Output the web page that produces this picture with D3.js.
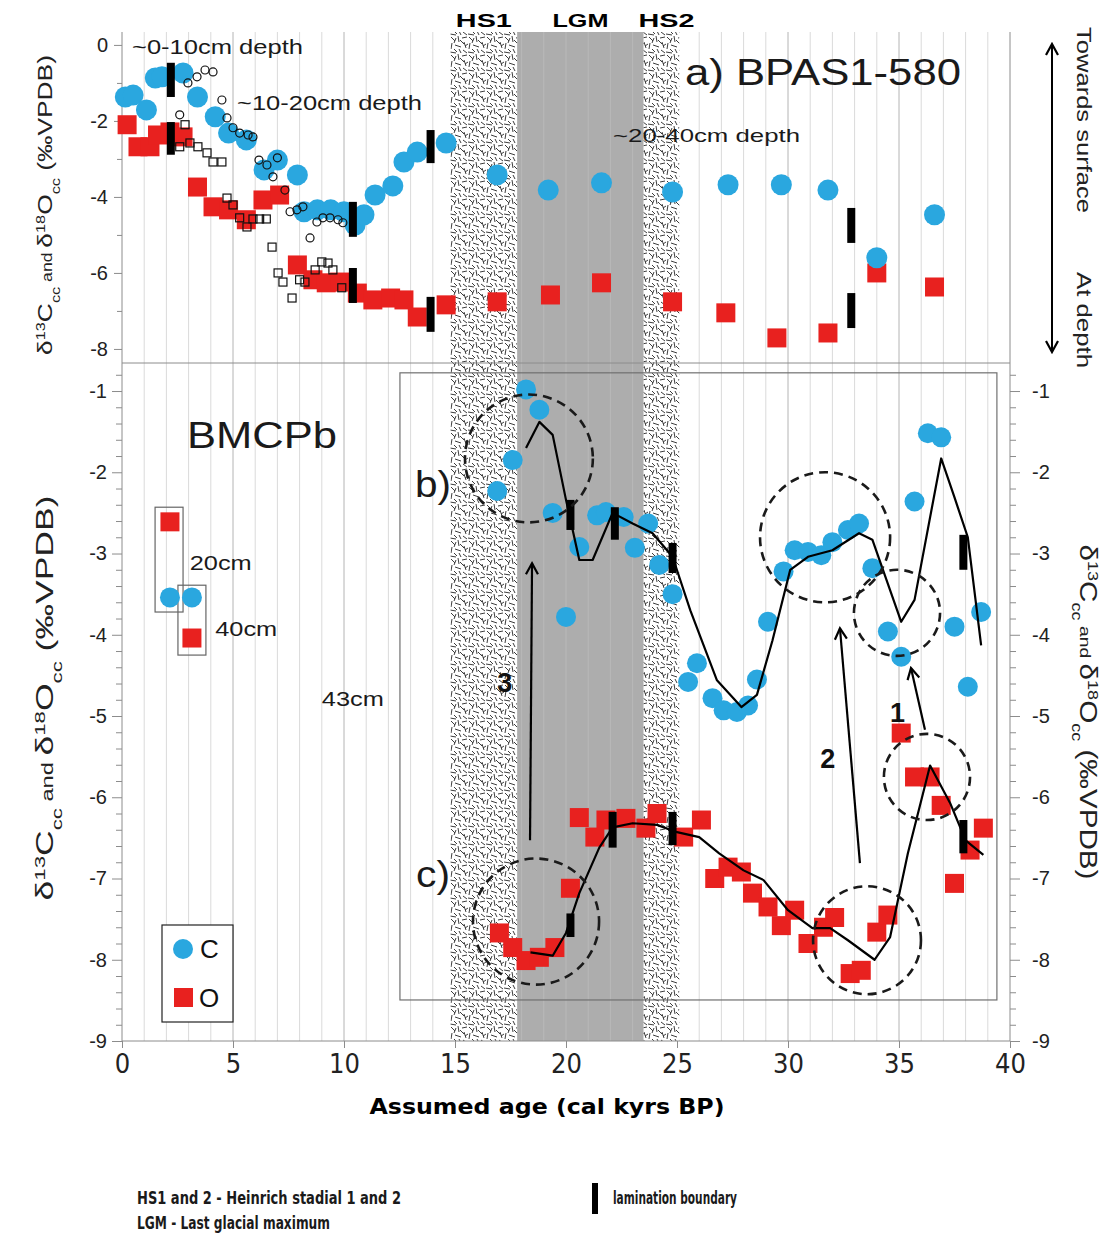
<!DOCTYPE html>
<html>
<head>
<meta charset="utf-8">
<script src="https://cdn.jsdelivr.net/npm/d3@7.9.0/dist/d3.min.js"></script>
<style>
  body { margin: 0; background: #fff; }
  svg { display: block; font-family: "Liberation Sans", Arial, sans-serif; }
</style>
</head>
<body>
<svg id="chart" width="1115" height="1234"></svg>
<script>
// ---- climate periods ----
const periodLabels = ['HS1', 'LGM', 'HS2'];
const periodStart = [14.8, 17.8, 23.5];
const periodEnd = [17.8, 23.5, 25.1];
const periodKind = ['hatch', 'gray', 'hatch'];

// ---- a) BPAS1-580 (age kyr, value permil) ----
const bpasC = [[0.15,-1.37],[0.5,-1.32],[1.1,-1.71],[1.5,-0.87],[1.8,-0.84],[2.75,-0.74],[3.4,-1.37],
  [4.2,-1.89],[4.8,-2.32],[5.6,-2.5],[6.4,-3.29],[7.0,-3.03],[7.9,-3.42],[8.2,-4.39],[8.8,-4.34],
  [9.4,-4.34],[10.0,-4.39],[10.5,-4.74],[10.9,-4.47],[11.4,-3.95],[12.2,-3.71],[12.7,-3.08],
  [13.3,-2.82],[14.6,-2.58],[16.9,-3.42],[19.2,-3.82],[21.6,-3.63],[24.8,-3.87],[27.3,-3.68],
  [29.7,-3.68],[31.8,-3.82],[34.0,-5.6],[36.6,-4.47]];
const bpasO = [[0.23,-2.1],[0.72,-2.68],[1.26,-2.68],[1.6,-2.37],[2.16,-2.29],[2.75,-2.42],[3.4,-3.74],
  [4.1,-4.26],[4.8,-4.34],[5.6,-4.6],[6.35,-4.08],[7.1,-3.95],[7.9,-5.79],[8.6,-6.18],[9.2,-6.26],
  [9.8,-6.24],[10.6,-6.53],[11.3,-6.71],[12.1,-6.66],[12.7,-6.71],[13.3,-7.16],[14.6,-6.84],
  [16.9,-6.76],[19.3,-6.58],[21.6,-6.26],[24.8,-6.76],[27.2,-7.05],[29.5,-7.71],[31.8,-7.58],
  [34.0,-6.0],[36.6,-6.37]];
// comparison record, shown as small open symbols
const refC = [[2.6,-1.84],[2.97,-1.0],[3.38,-0.84],[3.74,-0.66],[4.1,-0.71],[4.5,-1.45],[4.73,-1.92],
  [5.0,-2.18],[5.3,-2.32],[5.68,-2.37],[5.9,-2.42],[6.17,-3.03],[6.53,-3.16],[6.8,-3.47],[7.0,-2.97],
  [7.34,-3.82],[7.57,-4.39],[7.88,-4.34],[8.15,-4.26],[8.47,-5.08],[8.78,-4.66],[9.05,-4.55],
  [9.37,-4.55],[9.73,-4.6],[9.95,-4.68]];
const refO = [[2.84,-2.1],[2.6,-2.68],[3.06,-2.58],[3.42,-2.68],[3.83,-2.84],[4.1,-3.08],[4.5,-3.08],
  [4.73,-4.03],[5.0,-4.21],[5.3,-4.55],[5.63,-4.79],[5.9,-4.58],[6.2,-4.58],[6.5,-4.58],[6.76,-5.32],
  [7.03,-6.0],[7.25,-6.24],[7.66,-6.66],[8.0,-6.18],[8.24,-6.24],[8.7,-5.92],[9.0,-5.71],[9.28,-5.74],
  [9.5,-5.92],[9.9,-6.39]];
// lamination boundaries: [age, top value, bottom value]
const bpasBars = [[2.2,-0.47,-1.37],[2.2,-2.03,-2.89],[13.9,-2.24,-3.11],[10.4,-4.13,-5.05],
  [10.4,-5.87,-6.79],[13.9,-6.63,-7.55],[32.85,-4.29,-5.21],[32.85,-6.53,-7.45]];

// ---- BMCPb ----
const bmcpC = [[16.9,-2.23],[17.6,-1.85],[18.2,-0.98],[18.8,-1.23],[19.4,-2.5],[20.0,-3.78],[20.6,-2.92],
  [21.4,-2.53],[21.8,-2.49],[22.6,-2.55],[23.1,-2.93],[23.7,-2.63],[24.2,-3.14],[24.8,-3.5],[25.5,-4.58],
  [25.9,-4.35],[26.6,-4.78],[27.1,-4.93],[27.7,-4.95],[28.2,-4.87],[28.6,-4.55],[29.1,-3.84],[29.8,-3.22],
  [30.3,-2.96],[30.9,-2.98],[31.5,-3.02],[32.0,-2.86],[32.7,-2.71],[33.2,-2.63],[33.8,-3.18],[34.5,-3.96],
  [35.1,-4.27],[35.7,-2.36],[36.3,-1.52],[36.9,-1.57],[37.5,-3.9],[38.1,-4.64],[38.7,-3.72]];
const bmcpCLine = [[18.2,-1.70],[18.8,-1.38],[19.4,-1.54],[20.0,-2.34],[20.6,-3.08],[21.2,-3.08],[22.1,-2.5],
  [23.0,-2.63],[23.9,-2.75],[24.8,-3.04],[25.6,-3.7],[26.8,-4.56],[27.9,-4.89],[28.6,-4.74],[29.3,-4.07],
  [30.1,-3.2],[30.9,-3.04],[32.0,-2.96],[33.2,-2.75],[33.8,-2.83],[35.1,-3.84],[35.7,-3.57],[36.9,-1.83],
  [37.5,-2.31],[38.1,-2.8],[38.7,-4.13]];
const bmcpO = [[17.0,-7.67],[17.6,-7.85],[18.2,-8.01],[18.8,-7.97],[19.5,-7.85],[20.2,-7.12],[20.6,-6.25],
  [21.3,-6.49],[21.8,-6.28],[22.7,-6.26],[23.6,-6.38],[24.1,-6.2],[25.3,-6.49],[26.1,-6.28],[26.7,-7.0],
  [27.3,-6.86],[27.9,-6.92],[28.4,-7.18],[29.1,-7.35],[29.7,-7.58],[30.3,-7.39],[30.9,-7.8],[31.6,-7.6],
  [32.1,-7.48],[32.8,-8.17],[33.3,-8.13],[34.0,-7.66],[34.5,-7.45],[35.1,-5.21],[35.7,-5.75],[36.4,-5.75],
  [36.9,-6.1],[37.5,-7.06],[38.2,-6.65],[38.8,-6.38]];
const bmcpOLine = [[18.4,-7.91],[19.4,-7.95],[20.0,-7.67],[20.6,-7.18],[21.5,-6.62],[22.1,-6.37],[23.0,-6.32],
  [24.1,-6.34],[25.0,-6.43],[26.0,-6.49],[26.9,-6.69],[28.0,-6.9],[28.9,-7.02],[30.0,-7.39],[31.1,-7.61],
  [31.9,-7.61],[32.7,-7.76],[33.9,-8.0],[34.6,-7.72],[35.4,-6.69],[36.4,-5.61],[37.3,-6.07],[38.0,-6.53],
  [38.8,-6.71]];
const bmcpBars = [[20.2,-2.34,-2.71],[22.2,-2.43,-2.83],[24.8,-2.87,-3.24],[37.9,-2.77,-3.2],
  [20.2,-7.43,-7.72],[22.1,-6.18,-6.62],[24.8,-6.18,-6.59],[37.9,-6.28,-6.69]];
// surface samples of BMCPb
const coreC = [[2.16,-3.54],[3.15,-3.54]];
const coreO = [[2.16,-2.61],[3.15,-4.04]];
const coreBoxes = [[1.49,2.75,-2.43,-3.72],[2.52,3.78,-3.39,-4.25]];
const coreLabels = ['20cm', '40cm', '43cm'];
const coreLabelPos = [[3.05,-3.2],[4.2,-4.02],[9.0,-4.88]];
// dashed rings: [age, value, radius in kyr]
const rings = [[18.33,-1.83,2.88],[31.67,-2.8,2.93],[34.91,-3.73,1.94],
  [18.65,-7.53,2.84],[33.56,-7.76,2.43],[36.26,-5.75,1.94]];
// arrows: [from age, from value, to age, to value], labels
const arrows = [[36.17,-5.17,35.54,-4.41],[33.24,-6.81,32.34,-3.92],[18.38,-6.53,18.47,-3.12]];
const arrowLabels = ['1', '2', '3'];
const arrowLabelPos = [[34.6,-5.07],[31.45,-5.64],[16.9,-4.7]];

const xTicks = [0, 5, 10, 15, 20, 25, 30, 35, 40];

// ---- layout ----
const svg = d3.select('#chart');
const x = d3.scaleLinear().domain([0, 40]).range([122, 1010]);
const yTop = d3.scaleLinear().domain([-8.37, 0.34]).range([363, 32]);
const yBot = d3.scaleLinear().domain([-9, -0.655]).range([1041, 363]);
const BLUE = '#2aa7df', RED = '#e8211f';

const defs = svg.append('defs');
const hatch = defs.append('pattern').attr('id', 'hatch').attr('patternUnits', 'userSpaceOnUse')
  .attr('width', 18).attr('height', 18);
hatch.append('rect').attr('width', 18).attr('height', 18).attr('fill', '#fff');
const dashes = [[1,1,5,5],[8,0,9,6],[12,2,17,1],[2,7,1,13],[5,9,11,11],[14,6,16,12],
  [0,16,6,17],[9,13,11,17],[13,14,17,17],[10,4,14,8],[4,13,7,16],[6,2,4,7],[15,10,18,8]];
hatch.selectAll('line').data(dashes).join('line')
  .attr('x1', d => d[0]).attr('y1', d => d[1]).attr('x2', d => d[2]).attr('y2', d => d[3])
  .attr('stroke', '#3c3c3c').attr('stroke-width', 1);

defs.append('marker').attr('id', 'arrow').attr('viewBox', '-2 -8 16 16')
  .attr('refX', 12).attr('refY', 0).attr('markerWidth', 16).attr('markerHeight', 16)
  .attr('markerUnits', 'userSpaceOnUse').attr('orient', 'auto-start-reverse')
  .append('path').attr('d', 'M1,-6 L12,0 L1,6').attr('fill', 'none')
  .attr('stroke', '#000').attr('stroke-width', 2.2);

// grid
const gridAges = d3.range(1, 40);
svg.append('g').selectAll('line').data(gridAges).join('line')
  .attr('x1', d => x(d)).attr('x2', d => x(d)).attr('y1', 32).attr('y2', 1041)
  .attr('stroke', d => d % 5 === 0 ? '#b4b4b4' : '#dadada').attr('stroke-width', 1);

// periods
svg.append('g').selectAll('rect').data(periodLabels).join('rect')
  .attr('x', (d, i) => x(periodStart[i])).attr('width', (d, i) => x(periodEnd[i]) - x(periodStart[i]))
  .attr('y', 32).attr('height', 1041 - 32)
  .attr('fill', (d, i) => periodKind[i] === 'hatch' ? 'url(#hatch)' : '#adadad');
svg.append('g').selectAll('line').data(gridAges.filter(a => a > periodStart[1] && a < periodEnd[1])).join('line')
  .attr('x1', d => x(d)).attr('x2', d => x(d)).attr('y1', 32).attr('y2', 1041)
  .attr('stroke', '#b9b9b9').attr('stroke-width', 1);
svg.append('g').selectAll('text').data(periodLabels).join('text')
  .attr('x', (d, i) => x((periodStart[i] + periodEnd[i]) / 2) + (i === 2 ? 5 : 0)).attr('y', 27)
  .attr('text-anchor', 'middle').attr('font-weight', 'bold').attr('font-size', 19)
  .attr('textLength', 56).attr('lengthAdjust', 'spacingAndGlyphs').text(d => d);

// frame lines
const frame = svg.append('g').attr('stroke', '#8c8c8c').attr('fill', 'none');
frame.append('line').attr('x1', 122).attr('x2', 1010).attr('y1', 363).attr('y2', 363);
frame.append('line').attr('x1', 1010).attr('x2', 1010).attr('y1', 32).attr('y2', 363);
frame.append('line').attr('x1', 122).attr('x2', 1010).attr('y1', 1041).attr('y2', 1041);
svg.append('rect').attr('x', x(12.52)).attr('y', yBot(-0.776))
  .attr('width', x(39.41) - x(12.52)).attr('height', yBot(-8.495) - yBot(-0.776))
  .attr('fill', 'none').attr('stroke', '#707070').attr('stroke-width', 1.2);

// axes
function styleAxis(g) {
  g.selectAll('path.domain').attr('stroke', '#8c8c8c');
  g.selectAll('.tick line').attr('stroke', '#8c8c8c');
  g.selectAll('.tick text').attr('font-size', 20).attr('fill', '#222')
    .attr('font-family', '"Liberation Sans", Arial, sans-serif');
}
const fmt = d => String(d);
const topAx = svg.append('g').attr('transform', 'translate(122,0)')
  .call(d3.axisLeft(yTop).tickValues([0, -2, -4, -6, -8]).tickFormat(fmt).tickSize(8).tickPadding(6));
topAx.select('path.domain').remove();
svg.append('g').attr('transform', 'translate(122,0)')
  .call(d3.axisLeft(yTop).tickValues([-1, -3, -5, -7]).tickFormat('').tickSize(5))
  .call(g => g.select('path.domain').remove()).call(styleAxis);
styleAxis(topAx);
svg.append('line').attr('x1', 122).attr('x2', 122).attr('y1', 32).attr('y2', 1041).attr('stroke', '#8c8c8c');

const minorBot = d3.range(-9, -0.7, 0.2).map(v => Math.round(v * 10) / 10).filter(v => !Number.isInteger(v));
const majorBot = d3.range(-9, 0, 1);
[['left', d3.axisLeft, 122], ['right', d3.axisRight, 1010]].forEach(([side, axisFn, px]) => {
  const g = svg.append('g').attr('transform', `translate(${px},0)`)
    .call(axisFn(yBot).tickValues(majorBot).tickFormat(fmt).tickSize(10).tickPadding(side === 'left' ? 5 : 12));
  g.select('path.domain').remove();
  styleAxis(g);
  const m = svg.append('g').attr('transform', `translate(${px},0)`)
    .call(axisFn(yBot).tickValues(minorBot).tickFormat('').tickSize(6));
  m.select('path.domain').remove();
  styleAxis(m);
});
svg.append('line').attr('x1', 1010).attr('x2', 1010).attr('y1', 363).attr('y2', 1041).attr('stroke', '#8c8c8c');

const xAx = svg.append('g').attr('transform', 'translate(0,1041)')
  .call(d3.axisBottom(x).tickValues(xTicks).tickFormat(fmt).tickSize(7).tickPadding(6));
xAx.select('path.domain').remove();
styleAxis(xAx);
xAx.selectAll('.tick text').attr('font-size', 27)
  .attr('font-family', '"Liberation Sans Narrow", "DejaVu Sans Condensed", sans-serif');

// axis titles
function deltaTitle(g, size, len) {
  const t = g.append('text').attr('text-anchor', 'middle').attr('font-size', size).attr('fill', '#222')
    .attr('textLength', len).attr('lengthAdjust', 'spacingAndGlyphs');
  const small = Math.round(size * 0.62);
  const parts = [['δ', null], ['13', 'super'], ['C', null], ['cc', 'sub'], [' and ', 'and'],
    ['δ', null], ['18', 'super'], ['O', null], ['cc', 'sub'], [' (‰VPDB)', null]];
  parts.forEach(([s, k]) => {
    const ts = t.append('tspan').text(s);
    if (k === 'super' || k === 'sub') ts.attr('font-size', small).attr('baseline-shift', k);
    if (k === 'and') ts.attr('font-size', small + 1);
  });
  return t;
}
deltaTitle(svg.append('g').attr('transform', 'translate(52,205) rotate(-90)'), 21, 300);
deltaTitle(svg.append('g').attr('transform', 'translate(53,698) rotate(-90)'), 24, 405);
deltaTitle(svg.append('g').attr('transform', 'translate(1080,712) rotate(90)'), 23, 335);

svg.append('text').attr('x', 547).attr('y', 1114).attr('text-anchor', 'middle')
  .attr('font-family', '"Liberation Sans Narrow", "DejaVu Sans Condensed", sans-serif')
  .attr('font-weight', 'bold').attr('font-size', 22).attr('textLength', 355)
  .attr('lengthAdjust', 'spacingAndGlyphs').text('Assumed age (cal kyrs BP)');

// right-side depth arrow
svg.append('line').attr('x1', 1052).attr('x2', 1052).attr('y1', 44).attr('y2', 352)
  .attr('stroke', '#000').attr('stroke-width', 2)
  .attr('marker-start', 'url(#arrow)').attr('marker-end', 'url(#arrow)');
svg.append('text').attr('transform', 'translate(1077,27) rotate(90)').attr('font-size', 21)
  .attr('textLength', 186).attr('lengthAdjust', 'spacingAndGlyphs').attr('fill', '#222').text('Towards surface');
svg.append('text').attr('transform', 'translate(1077,272) rotate(90)').attr('font-size', 21)
  .attr('textLength', 96).attr('lengthAdjust', 'spacingAndGlyphs').attr('fill', '#222').text('At depth');

// ---- panel a ----
const gA = svg.append('g');
const sq = 19, sqS = 8;
gA.selectAll('rect.o').data(bpasO).join('rect').attr('class', 'o')
  .attr('x', d => x(d[0]) - sq / 2).attr('y', d => yTop(d[1]) - sq / 2)
  .attr('width', sq).attr('height', sq).attr('fill', RED);
gA.selectAll('circle.c').data(bpasC).join('circle').attr('class', 'c')
  .attr('cx', d => x(d[0])).attr('cy', d => yTop(d[1])).attr('r', 10.5).attr('fill', BLUE);
gA.selectAll('rect.ro').data(refO).join('rect').attr('class', 'ro')
  .attr('x', d => x(d[0]) - sqS / 2).attr('y', d => yTop(d[1]) - sqS / 2)
  .attr('width', sqS).attr('height', sqS).attr('fill', 'none').attr('stroke', '#111').attr('stroke-width', 1.2);
gA.selectAll('circle.rc').data(refC).join('circle').attr('class', 'rc')
  .attr('cx', d => x(d[0])).attr('cy', d => yTop(d[1])).attr('r', 4)
  .attr('fill', 'none').attr('stroke', '#111').attr('stroke-width', 1.2);
gA.selectAll('rect.bar').data(bpasBars).join('rect').attr('class', 'bar')
  .attr('x', d => x(d[0]) - 4).attr('y', d => yTop(d[1]))
  .attr('width', 8).attr('height', d => yTop(d[2]) - yTop(d[1])).attr('fill', '#000');

function label(s, px, py, size, w, extra) {
  const t = svg.append('text').attr('x', px).attr('y', py).attr('font-size', size).attr('fill', '#1a1a1a').text(s);
  if (w) t.attr('textLength', w).attr('lengthAdjust', 'spacingAndGlyphs');
  if (extra) extra(t);
  return t;
}
label('~0-10cm depth', 132, 54, 20, 171);
label('~10-20cm depth', 237, 110, 20, 185);
label('~20-40cm depth', 613, 142, 19, 187);
label('a) BPAS1-580', 685, 85, 37, 276);

// ---- BMCPb ----
label('BMCPb', 187, 448, 36, 150);
const gB = svg.append('g');
gB.selectAll('rect.box').data(coreBoxes).join('rect').attr('class', 'box')
  .attr('x', d => x(d[0])).attr('y', d => yBot(d[2]))
  .attr('width', d => x(d[1]) - x(d[0])).attr('height', d => yBot(d[3]) - yBot(d[2]))
  .attr('fill', 'none').attr('stroke', '#666').attr('stroke-width', 1.2);
gB.selectAll('rect.co').data(coreO).join('rect').attr('class', 'co')
  .attr('x', d => x(d[0]) - sq / 2).attr('y', d => yBot(d[1]) - sq / 2)
  .attr('width', sq).attr('height', sq).attr('fill', RED);
gB.selectAll('circle.cc').data(coreC).join('circle').attr('class', 'cc')
  .attr('cx', d => x(d[0])).attr('cy', d => yBot(d[1])).attr('r', 10).attr('fill', BLUE);
gB.selectAll('text.cl').data(coreLabels).join('text').attr('class', 'cl')
  .attr('x', (d, i) => x(coreLabelPos[i][0])).attr('y', (d, i) => yBot(coreLabelPos[i][1]))
  .attr('font-size', 21).attr('fill', '#1a1a1a').attr('textLength', 62)
  .attr('lengthAdjust', 'spacingAndGlyphs').text(d => d);

gB.selectAll('rect.o').data(bmcpO).join('rect').attr('class', 'o')
  .attr('x', d => x(d[0]) - sq / 2).attr('y', d => yBot(d[1]) - sq / 2)
  .attr('width', sq).attr('height', sq).attr('fill', RED);
gB.selectAll('circle.c').data(bmcpC).join('circle').attr('class', 'c')
  .attr('cx', d => x(d[0])).attr('cy', d => yBot(d[1])).attr('r', 10).attr('fill', BLUE);
const line = d3.line().x(d => x(d[0])).y(d => yBot(d[1]));
[bmcpCLine, bmcpOLine].forEach(s => gB.append('path').attr('d', line(s))
  .attr('fill', 'none').attr('stroke', '#000').attr('stroke-width', 2.2).attr('stroke-linejoin', 'round'));
gB.selectAll('rect.bar').data(bmcpBars).join('rect').attr('class', 'bar')
  .attr('x', d => x(d[0]) - 4).attr('y', d => yBot(d[1]))
  .attr('width', 8).attr('height', d => yBot(d[2]) - yBot(d[1])).attr('fill', '#000');
gB.selectAll('circle.ring').data(rings).join('circle').attr('class', 'ring')
  .attr('cx', d => x(d[0])).attr('cy', d => yBot(d[1])).attr('r', d => x(d[2]) - x(0))
  .attr('fill', 'none').attr('stroke', '#1a1a1a').attr('stroke-width', 2.6).attr('stroke-dasharray', '9,6');
gB.selectAll('line.arr').data(arrows).join('line').attr('class', 'arr')
  .attr('x1', d => x(d[0])).attr('y1', d => yBot(d[1])).attr('x2', d => x(d[2])).attr('y2', d => yBot(d[3]))
  .attr('stroke', '#000').attr('stroke-width', 2.2).attr('marker-end', 'url(#arrow)');
gB.selectAll('text.al').data(arrowLabels).join('text').attr('class', 'al')
  .attr('x', (d, i) => x(arrowLabelPos[i][0])).attr('y', (d, i) => yBot(arrowLabelPos[i][1]))
  .attr('font-size', 27).attr('font-weight', 'bold').attr('fill', '#111').text(d => d);
label('b)', 415, 497, 36, 36);
label('c)', 416, 887, 36, 34);

// legend
const leg = svg.append('g');
leg.append('rect').attr('x', 162).attr('y', 925).attr('width', 71).attr('height', 97)
  .attr('fill', '#fff').attr('stroke', '#222').attr('stroke-width', 1.2);
leg.append('circle').attr('cx', 183).attr('cy', 949).attr('r', 10).attr('fill', BLUE);
leg.append('rect').attr('x', 174).attr('y', 988).attr('width', 19).attr('height', 19).attr('fill', RED);
leg.append('text').attr('x', 200).attr('y', 958).attr('font-size', 26).attr('fill', '#111').text('C');
leg.append('text').attr('x', 199).attr('y', 1007).attr('font-size', 26).attr('fill', '#111').text('O');

// footnotes
const nf = t => t.attr('font-family', '"Liberation Sans Narrow", "DejaVu Sans Condensed", sans-serif').attr('font-weight', 'bold');
label('HS1 and 2 - Heinrich stadial 1 and 2', 137, 1204, 17, 264, nf);
label('LGM - Last glacial maximum', 137, 1229, 17, 193, nf);
label('lamination boundary', 613, 1204, 17, 124, nf);
svg.append('rect').attr('x', 592).attr('y', 1183).attr('width', 6).attr('height', 31).attr('fill', '#000');
</script>
</body>
</html>
